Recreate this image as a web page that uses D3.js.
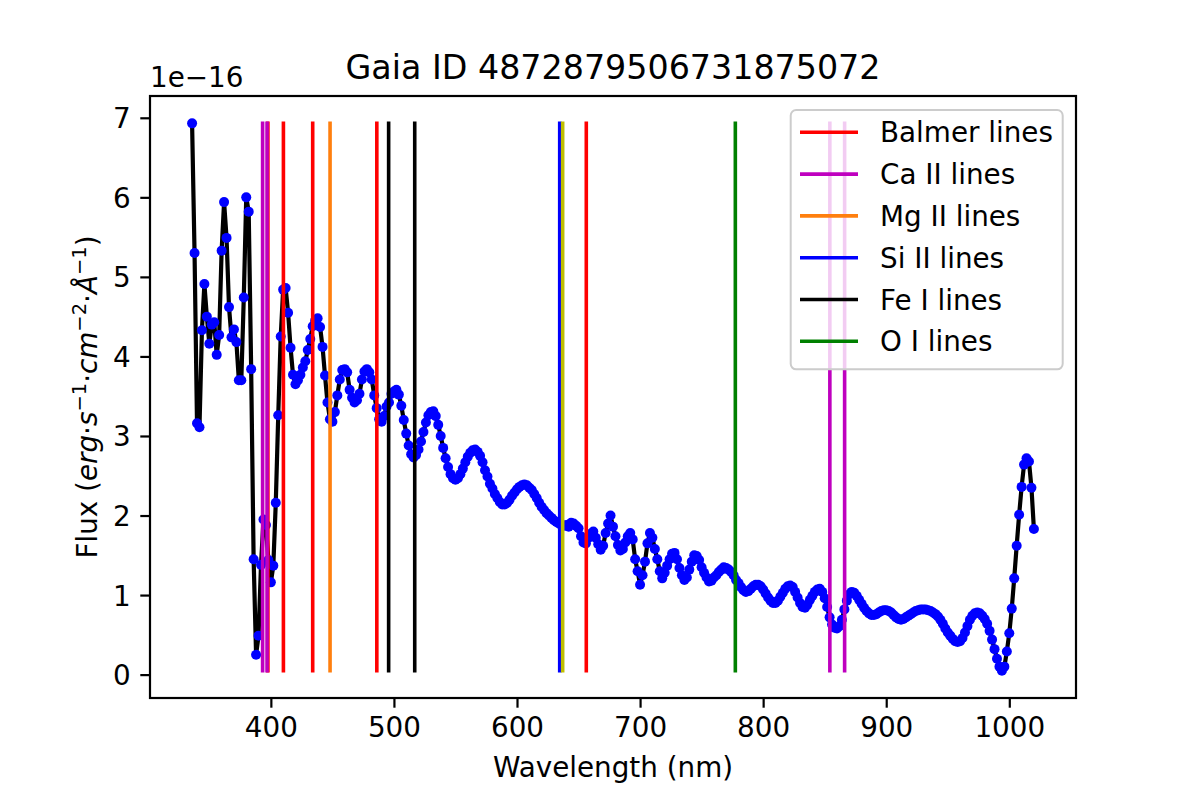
<!DOCTYPE html>
<html>
<head>
<meta charset="utf-8">
<script src="https://cdn.jsdelivr.net/npm/d3@7/dist/d3.min.js"></script>
<style>
  body { margin: 0; background: #fff; }
  text { font-family: "DejaVu Sans", sans-serif; fill: #000; }
</style>
</head>
<body>
<svg id="chart"></svg>
<script>
// Gaia XP sampled spectrum: 336-1020 nm every 2 nm
const wavelength = d3.range(336, 1021, 2);
// flux in units of 1e-16 erg/s/cm2/A
const flux = [
  6.93, 5.30, 3.16, 3.11, 4.33, 4.91, 4.50, 4.16, 4.40, 4.43,
  4.02, 4.27, 5.33, 5.94, 5.49, 4.62, 4.24, 4.34, 4.18, 3.70,
  3.70, 4.74, 6.00, 5.82, 3.84, 1.45, 0.25, 0.49, 1.38, 1.95,
  1.88, 1.44, 1.16, 1.37, 2.16, 3.26, 4.25, 4.84, 4.86, 4.55,
  4.11, 3.77, 3.65, 3.70, 3.77, 3.86, 3.94, 4.08, 4.22, 4.38,
  4.45, 4.48, 4.37, 4.12, 3.76, 3.42, 3.21, 3.18, 3.30, 3.51,
  3.71, 3.83, 3.84, 3.80, 3.58, 3.48, 3.42, 3.45, 3.53, 3.71,
  3.81, 3.84, 3.80, 3.71, 3.51, 3.35, 3.21, 3.18, 3.25, 3.37,
  3.42, 3.53, 3.56, 3.58, 3.52, 3.38, 3.20, 3.03, 2.88, 2.77,
  2.73, 2.76, 2.83, 2.93, 3.05, 3.17, 3.26, 3.30, 3.31, 3.25,
  3.14, 3.00, 2.85, 2.72, 2.61, 2.52, 2.47, 2.45, 2.47, 2.52,
  2.59, 2.67, 2.74, 2.79, 2.82, 2.83, 2.80, 2.75, 2.67, 2.57,
  2.49, 2.40, 2.34, 2.27, 2.22, 2.17, 2.14, 2.14, 2.16, 2.20,
  2.25, 2.29, 2.33, 2.36, 2.38, 2.39, 2.38, 2.35, 2.32, 2.27,
  2.22, 2.16, 2.11, 2.07, 2.03, 2.00, 1.97, 1.94, 1.92, 1.90,
  1.88, 1.87, 1.88, 1.86, 1.91, 1.90, 1.87, 1.84, 1.74, 1.66,
  1.65, 1.72, 1.77, 1.80, 1.72, 1.64, 1.57, 1.62, 1.78, 1.90,
  2.00, 1.86, 1.74, 1.63, 1.56, 1.58, 1.66, 1.74, 1.78, 1.70,
  1.45, 1.30, 1.13, 1.25, 1.42, 1.65, 1.78, 1.72, 1.58, 1.45,
  1.30, 1.21, 1.28, 1.37, 1.45, 1.52, 1.53, 1.45, 1.34, 1.25,
  1.19, 1.22, 1.32, 1.42, 1.50, 1.49, 1.44, 1.35, 1.28, 1.22,
  1.17, 1.18, 1.22, 1.25, 1.29, 1.32, 1.35, 1.34, 1.32, 1.29,
  1.25, 1.19, 1.15, 1.10, 1.06, 1.04, 1.05, 1.08, 1.11, 1.13,
  1.13, 1.11, 1.07, 1.02, 0.97, 0.93, 0.90, 0.90, 0.93, 0.98,
  1.03, 1.08, 1.11, 1.12, 1.10, 1.04, 0.97, 0.90, 0.85, 0.84,
  0.88, 0.94, 0.99, 1.04, 1.07, 1.08, 1.04, 0.96, 0.85, 0.72,
  0.63, 0.59, 0.58, 0.61, 0.69, 0.82, 0.93, 1.01, 1.04, 1.03,
  0.99, 0.94, 0.89, 0.84, 0.80, 0.77, 0.75, 0.75, 0.76, 0.78,
  0.80, 0.81, 0.81, 0.80, 0.78, 0.75, 0.72, 0.70, 0.69, 0.70,
  0.72, 0.74, 0.76, 0.78, 0.80, 0.81, 0.82, 0.82, 0.82, 0.81,
  0.80, 0.78, 0.76, 0.73, 0.69, 0.64, 0.58, 0.53, 0.49, 0.45,
  0.42, 0.41, 0.42, 0.46, 0.53, 0.61, 0.69, 0.74, 0.77, 0.78,
  0.77, 0.74, 0.70, 0.64, 0.55, 0.44, 0.32, 0.20, 0.10, 0.05,
  0.10, 0.29, 0.52, 0.83, 1.21, 1.62, 2.01, 2.36, 2.64, 2.72,
  2.68, 2.35, 1.83
];

// spectral line positions (nm), as placed in the plot
const balmerLines = [397.6, 410.2, 434.0, 486.1, 656.3];
const caIILines = [393.3, 396.9, 854.2, 866.2];
const mgIILines = [448.1];
const siIILines = [634.7];
const feILines = [495.7, 516.9];
const oILines = [777.4];
const extraLines = [637.1];

const xTicks = [400, 500, 600, 700, 800, 900, 1000];
const yTicks = [0, 1, 2, 3, 4, 5, 6, 7];

const lineGroups = [
  { label: "Balmer lines", color: "#ff0000", values: balmerLines },
  { label: "Ca II lines", color: "#bf00bf", values: caIILines },
  { label: "Mg II lines", color: "#ff7f0e", values: mgIILines },
  { label: "Si II lines", color: "#0000ff", values: siIILines },
  { label: "Fe I lines", color: "#000000", values: feILines },
  { label: "O I lines", color: "#008000", values: oILines },
  { label: null, color: "#bfbf00", values: extraLines }
];

function draw() {
  const width = 1196, height = 798;
  const left = 150, right = 1076, top = 96, bottom = 698;

  const svg = d3.select("#chart").attr("width", width).attr("height", height);

  // matplotlib style 5% margins
  const xMin = d3.min(wavelength), xMax = d3.max(wavelength);
  const xPad = (xMax - xMin) * 0.05;
  const fMin = d3.min(flux), fMax = d3.max(flux);
  const yPad = (fMax - fMin) * 0.05;

  const x = d3.scaleLinear().domain([xMin - xPad, xMax + xPad]).range([left, right]);
  const y = d3.scaleLinear().domain([fMin - yPad, fMax + yPad]).range([bottom, top]);

  const pts = wavelength.map((w, i) => [w, flux[i]]);

  // spectrum
  svg.append("path")
    .datum(pts)
    .attr("fill", "none")
    .attr("stroke", "#000")
    .attr("stroke-width", 4.2)
    .attr("stroke-linejoin", "round")
    .attr("d", d3.line().x(d => x(d[0])).y(d => y(d[1])));

  svg.append("g").selectAll("circle")
    .data(pts)
    .enter().append("circle")
      .attr("cx", d => x(d[0]))
      .attr("cy", d => y(d[1]))
      .attr("r", 5)
      .attr("fill", "#0000ff");

  // spectral lines from min to max flux
  lineGroups.forEach(g => {
    svg.append("g").selectAll("line")
      .data(g.values)
      .enter().append("line")
        .attr("x1", d => x(d)).attr("x2", d => x(d))
        .attr("y1", y(fMin)).attr("y2", y(fMax))
        .attr("stroke", g.color)
        .attr("stroke-width", 3.6)
        .attr("stroke-linecap", "square");
  });

  // axes
  const xAxis = svg.append("g")
    .attr("transform", `translate(0,${bottom})`)
    .call(d3.axisBottom(x).tickValues(xTicks).tickFormat(d3.format("d"))
      .tickSize(9.7).tickPadding(9.7).tickSizeOuter(0));
  const yAxis = svg.append("g")
    .attr("transform", `translate(${left},0)`)
    .call(d3.axisLeft(y).tickValues(yTicks).tickFormat(d3.format("d"))
      .tickSize(9.7).tickPadding(9.7).tickSizeOuter(0));

  [xAxis, yAxis].forEach(a => {
    a.select(".domain").remove();
    a.selectAll(".tick line").attr("stroke", "#000").attr("stroke-width", 2.2);
    a.selectAll(".tick text")
      .style("font-family", '"DejaVu Sans", sans-serif')
      .style("font-size", "27.8px")
      .attr("fill", "#000");
  });
  yAxis.selectAll(".tick text").attr("dy", "0.36em");

  svg.append("rect")
    .attr("x", left).attr("y", top)
    .attr("width", right - left).attr("height", bottom - top)
    .attr("fill", "none").attr("stroke", "#000").attr("stroke-width", 2.2);

  // offset text
  svg.append("text")
    .attr("x", left).attr("y", 87)
    .style("font-size", "27.8px")
    .text("1e\u221216");

  // title
  svg.append("text")
    .attr("x", (left + right) / 2).attr("y", 79)
    .attr("text-anchor", "middle")
    .style("font-size", "33.3px")
    .text("Gaia ID 4872879506731875072");

  // x label
  svg.append("text")
    .attr("x", (left + right) / 2).attr("y", 777)
    .attr("text-anchor", "middle")
    .style("font-size", "27.8px")
    .text("Wavelength (nm)");

  // y label with math-like parts
  const yl = svg.append("text")
    .attr("transform", `translate(97,${(top + bottom) / 2}) rotate(-90)`)
    .attr("text-anchor", "middle")
    .style("font-size", "27.8px");
  const parts = [
    ["Flux (", "n"], ["erg", "i"], ["\u00b7", "n"], ["s", "i"], ["\u22121", "s"],
    ["\u00b7", "n"], ["cm", "i"], ["\u22122", "s"], ["\u00b7", "n"],
    ["\u00c5", "i"], ["\u22121", "s"], [")", "n"]
  ];
  let raised = false;
  parts.forEach(([t, k]) => {
    const ts = yl.append("tspan").text(t);
    if (k === "i") ts.style("font-style", "italic");
    if (k === "s") {
      ts.style("font-size", "19.5px").attr("dy", raised ? 0 : -11);
      raised = true;
    } else if (raised) {
      ts.attr("dy", 11);
      raised = false;
    }
  });

  // legend
  const lg = svg.append("g");
  lg.append("rect")
    .attr("x", 790.7).attr("y", 110)
    .attr("width", 272).attr("height", 259.3)
    .attr("rx", 5.5)
    .attr("fill", "#fff").attr("fill-opacity", 0.8)
    .attr("stroke", "#cccccc").attr("stroke-width", 2);
  const entries = lineGroups.filter(g => g.label);
  const row = lg.selectAll("g.entry")
    .data(entries)
    .enter().append("g")
      .attr("class", "entry")
      .attr("transform", (d, i) => `translate(0,${132.3 + i * 41.8})`);
  row.append("line")
    .attr("x1", 800).attr("x2", 858)
    .attr("stroke", d => d.color).attr("stroke-width", 3.6);
  row.append("text")
    .attr("x", 880).attr("y", 10)
    .style("font-size", "27.8px")
    .text(d => d.label);
}

draw();
</script>
</body>
</html>
